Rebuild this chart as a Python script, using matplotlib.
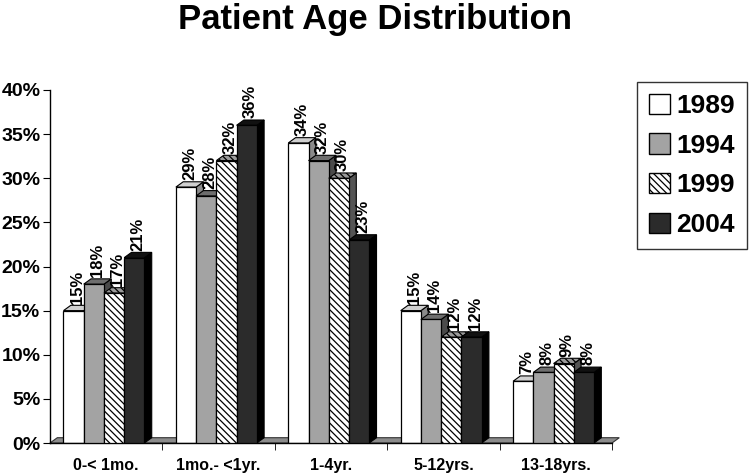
import matplotlib
matplotlib.use("Agg")
import matplotlib.pyplot as plt
from matplotlib.patches import Polygon, Rectangle, Patch
import numpy as np

categories = ["0-< 1mo.", "1mo.- <1yr.", "1-4yr.", "5-12yrs.", "13-18yrs."]
years = ["1989", "1994", "1999", "2004"]
v1989 = [15, 29, 34, 15, 7]
v1994 = [18, 28, 32, 14, 8]
v1999 = [17, 32, 30, 12, 9]
v2004 = [21, 36, 23, 12, 8]
series = [v1989, v1994, v1999, v2004]

face = ["white", "#a3a3a3", "white", "#2b2b2b"]
top = ["#d0d0d0", "#6e6e6e", "#9a9a9a", "#111111"]
side = ["#8a8a8a", "#4a4a4a", "#555555", "#000000"]
hatch = [None, None, "\\\\\\\\\\", None]

plt.rcParams['font.family'] = ['Liberation Sans', 'DejaVu Sans']
plt.rcParams['hatch.linewidth'] = 0.9

fig = plt.figure(figsize=(7.5, 4.73), dpi=100)
ax = fig.add_axes([50/750, 1-443/473, 562/750, 353/473])
ax.set_xlim(-0.5, 4.5)
ax.set_ylim(0, 40)

w = 0.18
dx = 0.065
dy = 0.6
x = np.arange(len(categories))

ax.add_patch(Polygon([(-0.5, 0), (4.5, 0), (4.5 + dx, dy), (-0.5 + dx, dy)],
                     closed=True, facecolor="#8c8c8c", edgecolor="#333333",
                     lw=0.8, zorder=1, clip_on=False))

for i, vals in enumerate(series):
    xs = x + (i - 1.5) * w - 0.02
    for xc, v in zip(xs, vals):
        x0, x1 = xc - w/2, xc + w/2
        ax.add_patch(Polygon([(x1, 0), (x1 + dx, dy), (x1 + dx, v + dy), (x1, v)],
                             closed=True, facecolor=side[i], edgecolor="black",
                             lw=0.8, zorder=2 + i))
        ax.add_patch(Polygon([(x0, v), (x1, v), (x1 + dx, v + dy), (x0 + dx, v + dy)],
                             closed=True, facecolor=top[i], edgecolor="black",
                             lw=0.8, zorder=2 + i, hatch=hatch[i]))
        ax.add_patch(Rectangle((x0, 0), w, v, facecolor=face[i], edgecolor="black",
                               lw=0.9, hatch=hatch[i], zorder=2.5 + i))
        ax.text(xc + dx/2, v + dy + 0.2, f"{v}%", rotation=90, ha="center",
                va="bottom", fontsize=12, fontweight="bold", zorder=10)

ax.spines['top'].set_visible(False)
ax.spines['right'].set_visible(False)
ax.spines['left'].set_linewidth(1.0)
ax.spines['bottom'].set_linewidth(1.0)
ax.set_yticks(np.arange(0, 41, 5))
ax.set_yticklabels([f"{t}%" for t in range(0, 41, 5)], fontsize=14, fontweight="bold")
ax.set_xticks(x)
ax.set_xticklabels(categories, fontsize=11.5, fontweight="bold")
ax.tick_params(axis='x', length=0, pad=11)
ax.set_xticks(np.arange(0.5, 4.6, 1), minor=True)
ax.tick_params(axis='x', which='minor', length=5, direction='out')
ax.tick_params(axis='y', length=5, direction='out', pad=2)

fig.text(0.5, 1 - 20/473, "Patient Age Distribution", ha="center", va="center",
         fontsize=25, fontweight="bold")

handles = [Patch(facecolor=face[i], edgecolor="black", hatch=hatch[i], label=years[i])
           for i in range(4)]
leg = fig.legend(handles=handles, loc="upper left", bbox_to_anchor=(637/750, 1 - 82/473),
                 prop={'size': 19, 'weight': 'bold'}, frameon=True, fancybox=False,
                 edgecolor="black", handlelength=0.8, handleheight=0.8,
                 handletextpad=0.25, labelspacing=0.58, borderpad=0.45, borderaxespad=0)
leg.get_frame().set_linewidth(1.0)

fig.savefig("out.png", dpi=100)
